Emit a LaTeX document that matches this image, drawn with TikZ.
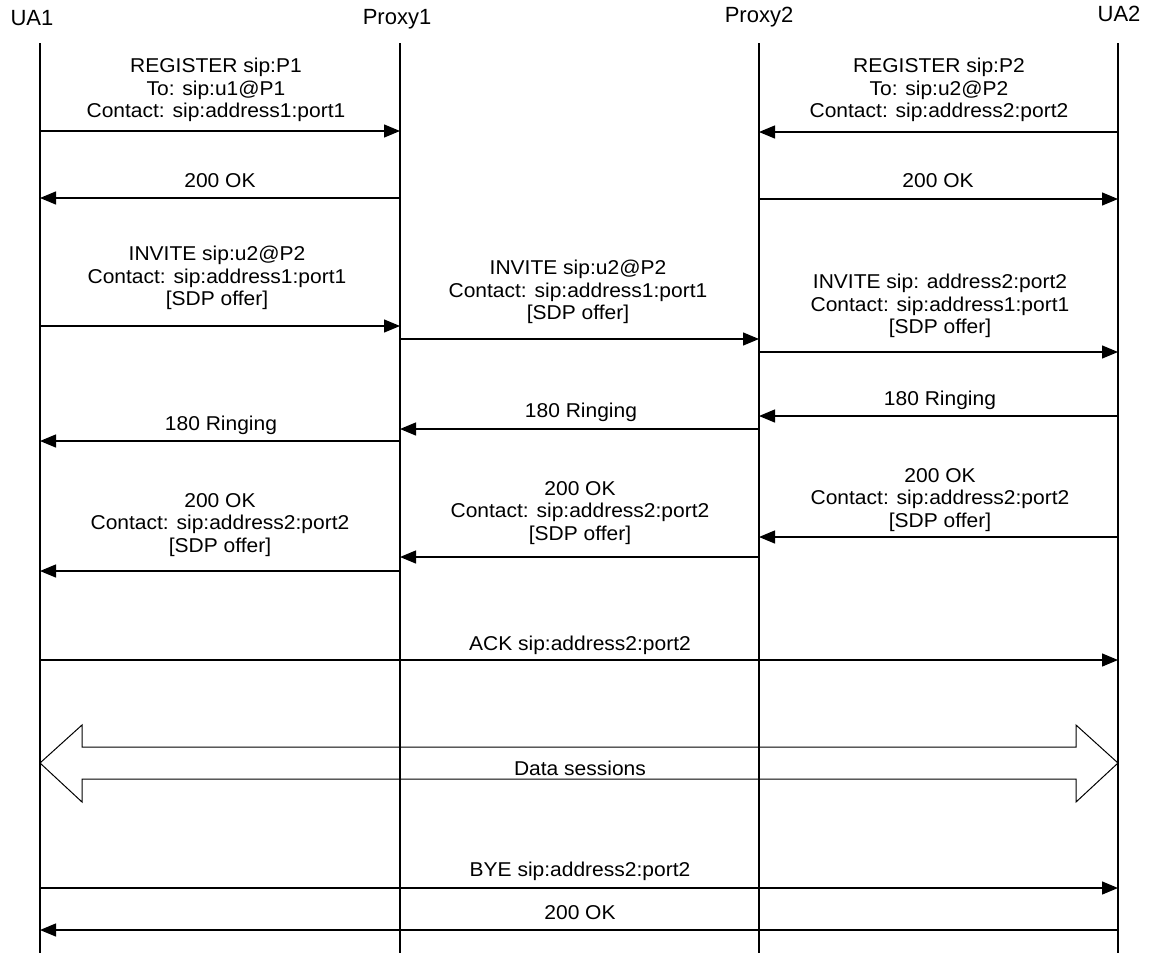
\documentclass[tikz,border=0pt]{standalone}
\usepackage{fontspec}
\setmainfont{Liberation Sans}
\newfontfamily\msgfont[FakeStretch=1.05]{Liberation Sans}
\usetikzlibrary{arrows.meta}
\newcommand\msgline[3]{\draw[msgarrow] (#1 |- 0,#3) -- (#2 |- 0,#3);}
\begin{document}
\begin{tikzpicture}[x=1pt,y=-1pt,
  hdr/.style={font=\fontsize{22}{26}\selectfont, inner sep=0pt},
  lbl/.style={font=\msgfont\fontsize{20}{22.5}\selectfont, align=center, inner sep=0pt},
  life/.style={line width=1.3pt},
  msgarrow/.style={line width=1.3pt, -{Triangle[length=16pt,width=13pt]}},
  blockarrow/.style={line width=1pt}]
\useasboundingbox (0,0) rectangle (1150,953);
\fill[white] (0,0) rectangle (1150,953);

% headers
\node[hdr] (hua1) at (32,18) {UA1};
\node[hdr] (hp1) at (397,19) {Proxy1};
\node[hdr] (hp2) at (759,17) {Proxy2};
\node[hdr] (hua2) at (1119,14) {UA2};

% lifelines
\coordinate (L1) at (40,43);  \coordinate (E1) at (40,953);
\coordinate (L2) at (400,43); \coordinate (E2) at (400,953);
\coordinate (L3) at (759,43); \coordinate (E3) at (759,953);
\coordinate (L4) at (1118,43);\coordinate (E4) at (1118,953);
\draw[life] (L1) -- (E1);
\draw[life] (L2) -- (E2);
\draw[life] (L3) -- (E3);
\draw[life] (L4) -- (E4);

% REGISTER
\msgline{L1}{L2}{131}
\node[lbl] (m1) at (216,90) {REGISTER sip:P1\\To: sip:u1@P1\\Contact: sip:address1:port1};
\msgline{L4}{L3}{132}
\node[lbl] (m2) at (939,90) {REGISTER sip:P2\\To: sip:u2@P2\\Contact: sip:address2:port2};

% 200 OK
\msgline{L2}{L1}{198}
\node[lbl] (m3) at (220,181) {200 OK};
\msgline{L3}{L4}{199}
\node[lbl] (m4) at (938,181) {200 OK};

% INVITE
\msgline{L1}{L2}{326}
\node[lbl] (m5) at (217,278) {INVITE sip:u2@P2\\Contact: sip:address1:port1\\{[SDP offer]}};
\msgline{L2}{L3}{339}
\node[lbl] (m6) at (578,292) {INVITE sip:u2@P2\\Contact: sip:address1:port1\\{[SDP offer]}};
\msgline{L3}{L4}{352}
\node[lbl] (m7) at (940,306) {INVITE sip: address2:port2\\Contact: sip:address1:port1\\{[SDP offer]}};

% 180 Ringing
\msgline{L4}{L3}{416}
\node[lbl] (m8) at (940,400) {180 Ringing};
\msgline{L3}{L2}{429}
\node[lbl] (m9) at (581,412) {180 Ringing};
\msgline{L2}{L1}{441}
\node[lbl] (m10) at (221,425) {180 Ringing};

% 200 OK with SDP
\msgline{L4}{L3}{537}
\node[lbl] (m11) at (940,500) {200 OK\\Contact: sip:address2:port2\\{[SDP offer]}};
\msgline{L3}{L2}{557}
\node[lbl] (m12) at (580,513) {200 OK\\Contact: sip:address2:port2\\{[SDP offer]}};
\msgline{L2}{L1}{571}
\node[lbl] (m13) at (220,525) {200 OK\\Contact: sip:address2:port2\\{[SDP offer]}};

% ACK
\msgline{L1}{L4}{660}
\node[lbl] (m14) at (580,645) {ACK sip:address2:port2};

% Data sessions block arrow
\draw[blockarrow] (L1 |- 0,763) -- (82,725) -- (82,747) -- (1076,747) -- (1076,725)
  -- (L4 |- 0,763) -- (1076,802) -- (1076,779) -- (82,779) -- (82,802) -- cycle;
\node[lbl] (m15) at (580,768) {Data sessions};

% BYE
\msgline{L1}{L4}{888}
\node[lbl] (m16) at (580,871) {BYE sip:address2:port2};
\msgline{L4}{L1}{930}
\node[lbl] (m17) at (580,913) {200 OK};
\end{tikzpicture}
\end{document}
